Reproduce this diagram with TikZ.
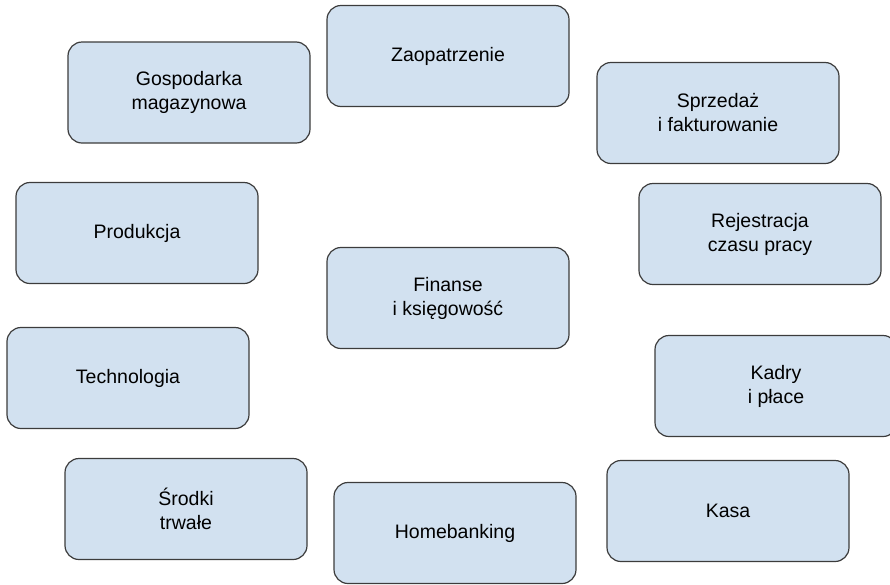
\documentclass[tikz,border=0pt]{standalone}
\usepackage{fontspec}
\setmainfont{Liberation Sans}
\usepackage{xcolor}
\usepackage{tikz}

\definecolor{modfill}{RGB}{210,225,240}
\definecolor{modline}{RGB}{60,60,60}

\tikzset{
  modul/.style={draw=modline, fill=modfill, line width=1.2pt,
    rounded corners=14pt, minimum width=242pt, minimum height=101pt,
    align=center, font=\fontsize{19.5}{24}\selectfont, inner sep=0pt}
}

\begin{document}
\begin{tikzpicture}[x=1pt, y=-1pt]
        \useasboundingbox (0, 0) rectangle (890, 584);

        \node[modul] (gosp)   at (189, 92.5) {Gospodarka\\magazynowa};
        \node[modul] (zaop)   at (448, 56)   {Zaopatrzenie};
        \node[modul] (sprz)   at (718, 113)  {Sprzedaż\\i fakturowanie};
        \node[modul] (prod)   at (137, 233)  {Produkcja};
        \node[modul] (rej)    at (760, 234)  {Rejestracja\\czasu pracy};
        \node[modul] (fin)    at (448, 298)  {Finanse\\i księgowość};
        \node[modul] (tech)   at (128, 378)  {Technologia};
        \node[modul] (kadry)  at (776, 386)  {Kadry\\i płace};
        \node[modul] (srodki) at (186, 509)  {Środki\\trwałe};
        \node[modul] (home)   at (455, 533)  {Homebanking};
        \node[modul] (kasa)   at (728, 511)  {Kasa};
      \end{tikzpicture}
\end{document}
